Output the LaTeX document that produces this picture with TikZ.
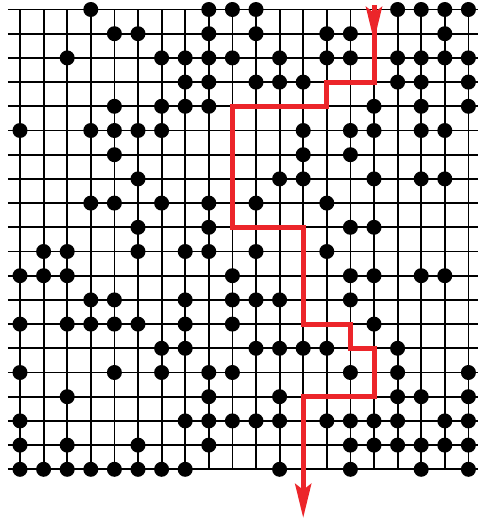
\documentclass[tikz,border=0pt]{standalone}
\usepackage{tikz}
\usetikzlibrary{arrows.meta}
\definecolor{pathred}{RGB}{236,37,42}

\begin{document}
\begin{tikzpicture}[x=23.6pt, y=-24.2pt,
    gridline/.style={line width=1.8pt, black},
    stone/.style={black},
    route/.style={line width=5pt, pathred},
    routetip/.style={-{Stealth[length=34pt, width=16pt, inset=6pt]}}]
    \useasboundingbox (-20pt,9.5pt) rectangle (458pt,-512.5pt);

    % Draw the board lines
    \foreach \y in {0,...,19} \draw[gridline] (-0.51,\y) -- (19.41,\y);
    \foreach \x in {0,...,19} \draw[gridline] (\x,0) -- (\x,19);

    % Place the stones, row by row
    \foreach \r/\cols in {0/{3,8,9,10,16,17,18,19}, 1/{4,5,8,10,13,14,18},
        2/{2,6,7,8,9,11,13,14,16,17,18,19}, 3/{7,8,10,11,12,16,17,19},
        4/{4,6,7,8,15,17,19}, 5/{0,3,4,5,6,12,14,15,17,18}, 6/{4,12,14},
        7/{5,11,12,15,17,18}, 8/{3,4,6,8,10,13}, 9/{5,8,14,15},
        10/{1,2,5,7,8,10,13}, 11/{0,1,2,9,14,15,17,18}, 12/{3,4,7,9,10,11,14},
        13/{0,2,3,4,5,7,9,15}, 14/{6,7,10,11,12,13,16}, 15/{0,4,6,8,9,14,16,19},
        16/{2,8,11,16,17,19}, 17/{0,7,8,9,10,11,13,14,15,16,18,19},
        18/{0,2,5,8,14,15,16,17,18,19}, 19/{0,1,2,3,4,5,6,7,11,14,17,19}}
        { \foreach \c in \cols \fill[stone] (\c,\r) circle (7.5pt); }

    % Draw the path through the board
    \draw[route, routetip] (15,-0.19) -- (15,1.3);
    \draw[route, routetip] (15,0) -- (15,3) -- (13,3) -- (13,4) -- (9,4) -- (9,9)
        -- (12,9) -- (12,13) -- (14,13) -- (14,14) -- (15,14) -- (15,16)
        -- (12,16) -- (12,21.01);
\end{tikzpicture}
\end{document}
